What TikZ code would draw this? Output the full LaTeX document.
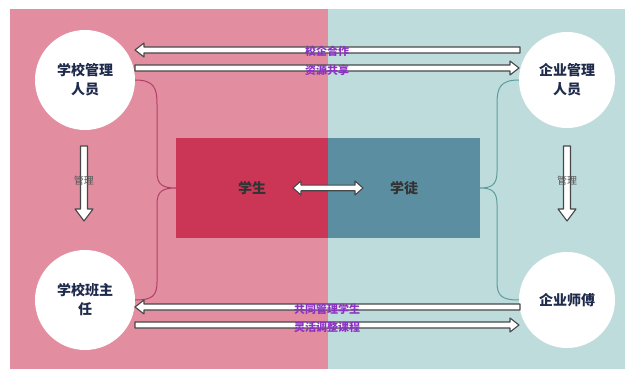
\documentclass[tikz,border=0pt]{standalone}
\usepackage{fontspec}
\setmainfont{Noto Sans CJK SC}
\usetikzlibrary{calc}

\definecolor{pinkbg}{HTML}{E38DA0}
\definecolor{tealbg}{HTML}{BFDCDD}
\definecolor{redbox}{HTML}{CB3556}
\definecolor{bluebox}{HTML}{5B8EA1}
\definecolor{navy}{HTML}{1F2B4C}
\definecolor{lblpurple}{HTML}{8A32C2}
\definecolor{pinkline}{HTML}{B23E68}
\definecolor{tealline}{HTML}{5E9C9C}

% fat arrow: from, to, shaft half width, head half width, head length
\newcommand{\fatarrow}[5]{%
  \coordinate (hb) at ($(#2)!#5!(#1)$);
  \filldraw[fat] ($(#1)!#3!90:(#2)$) -- ($(hb)!#3!90:(#2)$) -- ($(hb)!#4!90:(#2)$) -- (#2)
    -- ($(hb)!#4!-90:(#2)$) -- ($(hb)!#3!-90:(#2)$) -- ($(#1)!#3!-90:(#2)$) -- cycle;}
% fat arrow with two heads
\newcommand{\fatboth}[5]{%
  \coordinate (ha) at ($(#1)!#5!(#2)$);
  \coordinate (hb) at ($(#2)!#5!(#1)$);
  \filldraw[fat] (#1) -- ($(ha)!#4!90:(#2)$) -- ($(ha)!#3!90:(#2)$) -- ($(hb)!#3!90:(#2)$)
    -- ($(hb)!#4!90:(#2)$) -- (#2) -- ($(hb)!#4!-90:(#2)$) -- ($(hb)!#3!-90:(#2)$)
    -- ($(ha)!#3!-90:(#2)$) -- ($(ha)!#4!-90:(#2)$) -- cycle;}

\tikzset{
  fat/.style={draw=black!72, fill=white, line width=1.1pt, line join=round},
  person/.style={circle, fill=white, minimum size=#1, inner sep=0pt, align=center,
    text=navy, font=\bfseries\fontsize{14}{19}\selectfont},
  half/.style={minimum width=152pt, minimum height=100pt, inner sep=0pt,
    text=black!80, font=\bfseries\fontsize{14}{16}\selectfont},
  flowlbl/.style={text=lblpurple, font=\bfseries\fontsize{11}{12}\selectfont, inner sep=0pt},
  mglbl/.style={text=black!65, font=\fontsize{10}{11}\selectfont, inner sep=0pt},
  brace/.style={line width=1pt}
}

\begin{document}
\begin{tikzpicture}[x=1pt,y=-1pt]
\useasboundingbox (0,0) rectangle (625,369);
\fill[white] (0,0) rectangle (625,369);
\fill[pinkbg] (10,9) rectangle (328,369);
\fill[tealbg] (328,9) rectangle (625,369);

% the four persons
\node[person=100pt] (sm) at (85,80) {学校管理\\人员};
\node[person=100pt] (ct) at (85,300) {学校班主\\任};
\node[person=96pt] (em) at (567,80) {企业管理\\人员};
\node[person=96pt] (mt) at (567,300) {企业师傅};

% student / apprentice
\node[half, fill=redbox] (stu) at (252,188) {学生};
\node[half, fill=bluebox] (app) at (404,188) {学徒};

% braces
\draw[brace, pinkline] (sm.east) .. controls (154,80) and (157,88) .. (157,104)
  -- (157,172) .. controls (157,185) and (163,188) .. (stu.west)
  .. controls (163,188) and (157,191) .. (157,204)
  -- (157,282) .. controls (157,296) and (152,300) .. (ct.east);
\draw[brace, tealline] (em.west) .. controls (500,80) and (497,88) .. (497,104)
  -- (497,172) .. controls (497,185) and (491,188) .. (app.east)
  .. controls (491,188) and (497,191) .. (497,204)
  -- (497,282) .. controls (497,296) and (502,300) .. (mt.west);

% arrows between school and enterprise
\coordinate (t1a) at (520,50);  \coordinate (t1b) at (135,50);
\coordinate (t2a) at (135,68);  \coordinate (t2b) at (519,68);
\coordinate (b1a) at (520,307); \coordinate (b1b) at (135,307);
\coordinate (b2a) at (135,325); \coordinate (b2b) at (519,325);
\fatarrow{t1a}{t1b}{3pt}{7pt}{9pt}
\fatarrow{t2a}{t2b}{3pt}{7pt}{9pt}
\fatarrow{b1a}{b1b}{3pt}{7pt}{9pt}
\fatarrow{b2a}{b2b}{3pt}{7pt}{9pt}
\node[flowlbl] (l1) at (327,51) {校企合作};
\node[flowlbl] (l2) at (327,70) {资源共享};
\node[flowlbl] (l3) at (327,309) {共同管理学生};
\node[flowlbl] (l4) at (327,327) {灵活调整课程};

% management arrows
\coordinate (v1a) at (84,146);  \coordinate (v1b) at (84,221);
\coordinate (v2a) at (567,146); \coordinate (v2b) at (567,221);
\fatarrow{v1a}{v1b}{3.5pt}{9pt}{12pt}
\fatarrow{v2a}{v2b}{3.5pt}{9pt}{12pt}
\node[mglbl] (m1) at (84,181) {管理};
\node[mglbl] (m2) at (567,181) {管理};

% student <-> apprentice
\coordinate (d1) at (293,188); \coordinate (d2) at (363,188);
\fatboth{d1}{d2}{2.8pt}{7pt}{8pt}
\end{tikzpicture}
\end{document}
